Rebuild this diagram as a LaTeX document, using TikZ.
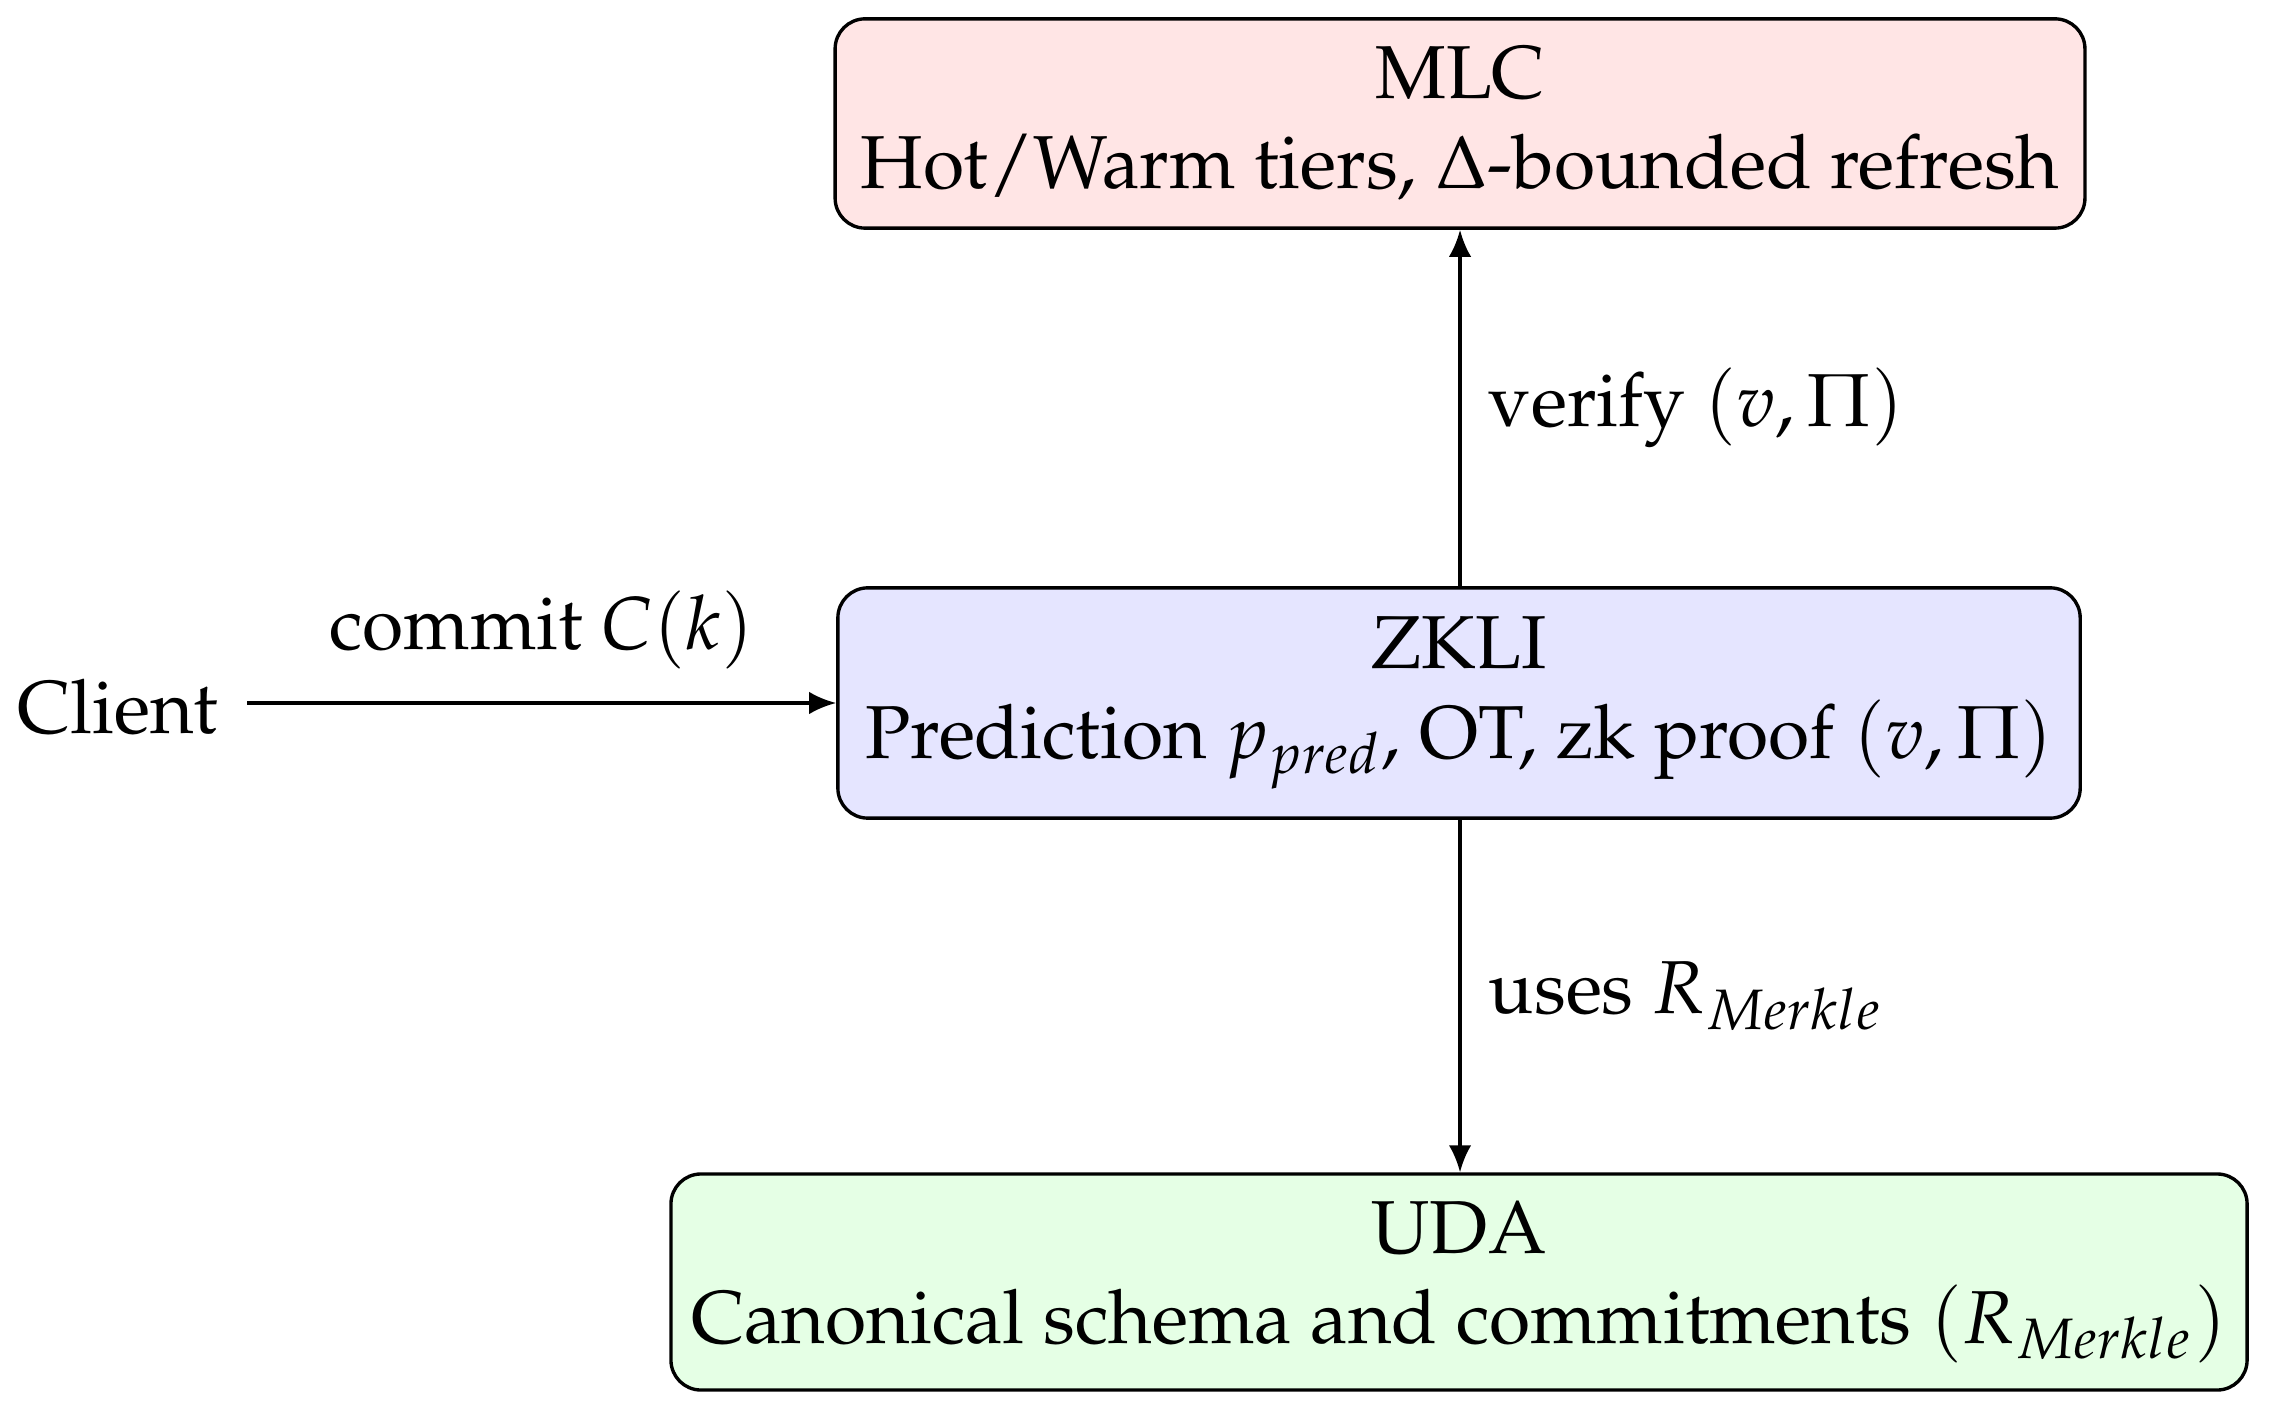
\documentclass[tikz,border=0pt]{standalone}
\usepackage[T1]{fontenc}
\usepackage{mathpazo}
\usetikzlibrary{arrows.meta}
\begin{document}
\begin{tikzpicture}[x=0.1333pt,y=-0.1333pt,
  box/.style={draw, rounded corners=4pt, align=center, inner sep=0pt, line width=0.45pt},
  conn/.style={-{Latex[length=3.6pt,width=3pt]}, line width=0.45pt},
  lbl/.style={inner sep=0pt}]
\useasboundingbox (0,0) rectangle (2278,1414);
\node[box, fill=red!10, minimum width=166.6pt, minimum height=27.9pt] (mlc) at (1460,123.5)
  {MLC\\Hot/Warm tiers, $\Delta$-bounded refresh};
\node[box, fill=blue!10, minimum width=165.6pt, minimum height=30.7pt] (zkli) at (1459,703)
  {ZKLI\\Prediction $p_{pred}$, OT, zk proof $(v,\Pi)$};
\node[box, fill=green!10, minimum width=210.1pt, minimum height=28.8pt] (uda) at (1459,1282)
  {UDA\\Canonical schema and commitments $(R_{Merkle})$};
\node[lbl] (client) at (118,707) {Client};
\coordinate (cstart) at (247,703);
\draw[conn] (cstart) -- (zkli.west |- cstart) node[midway, above=1pt] {commit $C(k)$};
\draw[conn] (zkli.north -| 1460,0) -- (mlc.south -| 1460,0) node[midway, right=0.3pt] {verify $(v,\Pi)$};
\draw[conn] (zkli.south -| 1460,0) -- (uda.north -| 1460,0) node[midway, right=0.3pt] {uses $R_{Merkle}$};
\end{tikzpicture}
\end{document}
